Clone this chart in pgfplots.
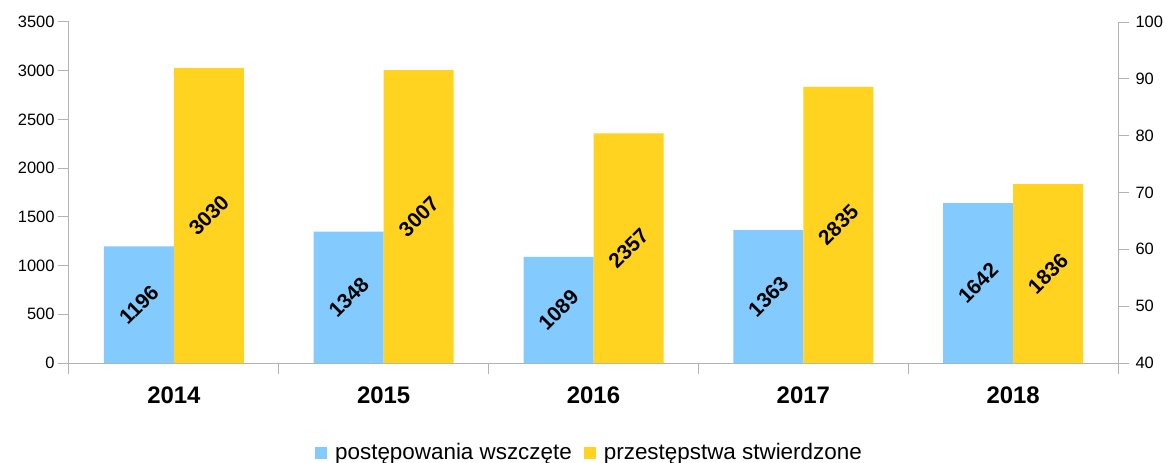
\documentclass[border=0pt]{standalone}
\usepackage{pgfplots}
\pgfplotsset{compat=1.18}
\usepackage{pgfplotstable}
\usepackage{fontspec}
\setmainfont{Liberation Sans}
\definecolor{cblue}{HTML}{83CAFF}
\definecolor{cyel}{HTML}{FFD320}
\definecolor{axgray}{HTML}{B3B3B3}
\pgfplotstableread{
x a b
0 1196 3030
1 1348 3007
2 1089 2357
3 1363 2835
4 1642 1836
}\datatable
\pgfplotsset{
  labelplot/.style={forget plot, draw=none, mark=none,
    point meta=rawy,
    y filter/.expression={y/2},
    nodes near coords={\pgfmathprintnumber[fixed,precision=0,1000 sep={}]{\pgfplotspointmeta}},
    every node near coord/.append style={rotate=45, anchor=center, text=black,
      font=\bfseries\fontsize{21}{21}\selectfont}},
}
\begin{document}
\begin{tikzpicture}
\path[use as bounding box] (-69bp,-100bp) rectangle (1101bp,363bp);
\begin{axis}[
  at={(0,0)}, anchor=south west,
  scale only axis, width=1049bp, height=341bp,
  xmin=-0.5, xmax=4.5, ymin=0, ymax=3500,
  ytick={0,500,...,3500},
  xtick={-0.5,0.5,...,4.5},
  xticklabels={2014,2015,2016,2017,2018,{}},
  xticklabel style={xshift=104.9bp, yshift=-9bp, font=\bfseries\fontsize{24}{24}\selectfont},
  yticklabel style={font=\fontsize{16.5}{16.5}\selectfont},
  /pgf/number format/assume math mode=true,
  /pgf/number format/1000 sep={},
  axis x line*=bottom, axis y line*=left,
  axis line style={axgray, line width=1bp, -},
  tick align=outside, major tick length=11bp,
  every tick/.style={axgray, line width=1bp},
  legend style={at={(axis description cs:0.4952,-0.2625)}, anchor=center, draw=none,
    legend columns=-1, font=\fontsize{22.5}{22.5}\selectfont,
    nodes={inner sep=0pt},
    /tikz/every even column/.append style={column sep=12bp}},
  legend image code/.code={\fill[#1] (0bp,-6bp) rectangle (12bp,6bp); \path (20bp,0bp);},
]
\addplot[ybar, bar width=70bp, bar shift=-35bp, fill=cblue, draw=none] table[x=x,y=a]{\datatable};
\addlegendentry{postępowania wszczęte}
\addplot[ybar, bar width=70bp, bar shift=35bp, fill=cyel, draw=none] table[x=x,y=b]{\datatable};
\addlegendentry{przestępstwa stwierdzone}
\addplot[labelplot, x filter/.expression={x-0.1668}] table[x=x,y=a]{\datatable};
\addplot[labelplot, x filter/.expression={x+0.1668}] table[x=x,y=b]{\datatable};
\end{axis}
\begin{axis}[
  at={(0,0)}, anchor=south west,
  scale only axis, width=1049bp, height=341bp,
  xmin=-0.5, xmax=4.5, ymin=40, ymax=100,
  ytick={40,50,...,100},
  hide x axis,
  axis y line*=right,
  axis line style={axgray, line width=1bp, -},
  tick align=outside, major tick length=11bp,
  every tick/.style={axgray, line width=1bp},
  yticklabel style={font=\fontsize{16.5}{16.5}\selectfont, xshift=3bp},
  /pgf/number format/assume math mode=true,
]
\addplot[draw=none, forget plot] coordinates {(0,40)};
\end{axis}
\end{tikzpicture}
\end{document}
